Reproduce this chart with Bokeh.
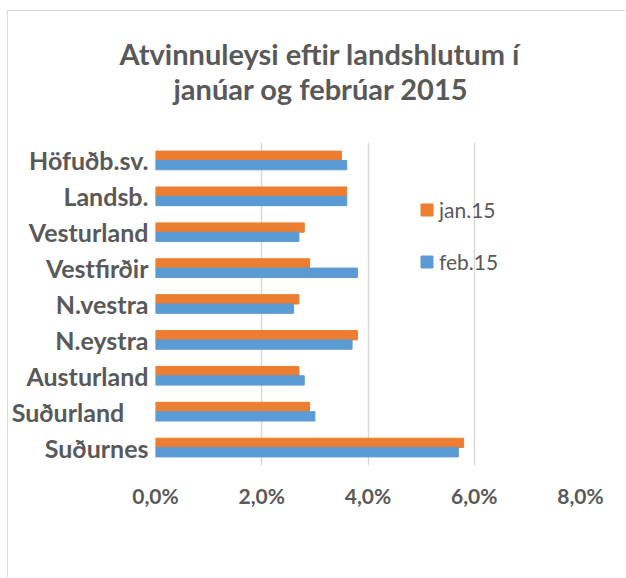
from bokeh.plotting import figure
from bokeh.models import (FactorRange, Range1d, FixedTicker, Legend, LegendItem,
                          Title, ColumnDataSource)
from bokeh.transform import dodge
from bokeh.embed import file_html
from bokeh.resources import INLINE

# ---- data ----
regions = ["Höfuðb.sv.", "Landsb.", "Vesturland", "Vestfirðir", "N.vestra",
           "N.eystra", "Austurland", "Suðurland\u00a0\u00a0\u00a0\u00a0", "Suðurnes"]
jan15 = [3.5, 3.6, 2.8, 2.9, 2.7, 3.8, 2.7, 2.9, 5.8]
feb15 = [3.6, 3.6, 2.7, 3.8, 2.6, 3.7, 2.8, 3.0, 5.7]
series_names = ["jan.15", "feb.15"]
x_ticks = [0, 2, 4, 6, 8]
x_tick_labels = ["0,0%", "2,0%", "4,0%", "6,0%", "8,0%"]
title_lines = ["Atvinnuleysi eftir landshlutum í", "janúar og febrúar 2015"]

TXT = "#595959"
FONT = "Lato"

p = figure(width=618, height=567,
           y_range=FactorRange(factors=regions[::-1]),
           x_range=Range1d(0, 8),
           output_backend="svg", toolbar_location=None,
           min_border_left=146, min_border_right=46,
           min_border_top=131, min_border_bottom=113)
p.styles = {"border-left": "1px solid #d9d9d9", "border-top": "1px solid #d9d9d9",
            "margin-left": "7px", "margin-top": "10px"}
p.outline_line_color = None
p.background_fill_color = "white"
p.border_fill_color = "white"

src = ColumnDataSource(dict(region=regions, jan=jan15, feb=feb15))
r_jan = p.hbar(y=dodge("region", 0.13, range=p.y_range), left=0, right="jan",
               height=0.26, source=src, fill_color="#ED7D31", line_color="#ED7D31")
r_feb = p.hbar(y=dodge("region", -0.13, range=p.y_range), left=0, right="feb",
               height=0.26, source=src, fill_color="#5B9BD5", line_color="#5B9BD5")

# grid
p.xgrid.ticker = FixedTicker(ticks=x_ticks)
p.xgrid.grid_line_color = "#d9d9d9"
p.xgrid.grid_line_width = 1.5
p.ygrid.grid_line_color = None

# x axis
xa = p.xaxis[0]
xa.ticker = FixedTicker(ticks=x_ticks)
xa.major_label_overrides = dict(zip(x_ticks, x_tick_labels))
xa.axis_line_color = None
xa.major_tick_line_color = None
xa.minor_tick_line_color = None
xa.major_tick_out = 0
xa.major_tick_in = 0
xa.major_label_standoff = 17
xa.major_label_text_font = FONT
xa.major_label_text_font_style = "bold"
xa.major_label_text_font_size = "21px"
xa.major_label_text_color = TXT

# y axis
ya = p.yaxis[0]
ya.axis_line_color = None
ya.major_tick_line_color = None
ya.minor_tick_line_color = None
ya.major_tick_out = 0
ya.major_tick_in = 0
ya.major_label_standoff = 7
ya.major_label_text_font = FONT
ya.major_label_text_font_style = "bold"
ya.major_label_text_font_size = "25px"
ya.major_label_text_color = TXT

# title (two lines); later additions stack further from the frame
for line, stand, off in zip(title_lines[::-1], [74, -78], [18, -36]):
    p.add_layout(Title(text=line, align="left", offset=off, standoff=stand,
                       text_font=FONT, text_font_style="bold",
                       text_font_size="29px", text_color=TXT), "above")

# legend
legend = Legend(items=[LegendItem(label=series_names[0], renderers=[r_jan]),
                       LegendItem(label=series_names[1], renderers=[r_feb])],
                location=(264, 191), orientation="vertical",
                padding=0, margin=0, spacing=27,
                glyph_width=15, glyph_height=15, label_height=15,
                label_standoff=5,
                label_text_font=FONT, label_text_font_size="21px",
                label_text_color=TXT,
                background_fill_alpha=0, border_line_color=None)
p.add_layout(legend, "center")

open("out.html", "w").write(file_html(p, INLINE))
